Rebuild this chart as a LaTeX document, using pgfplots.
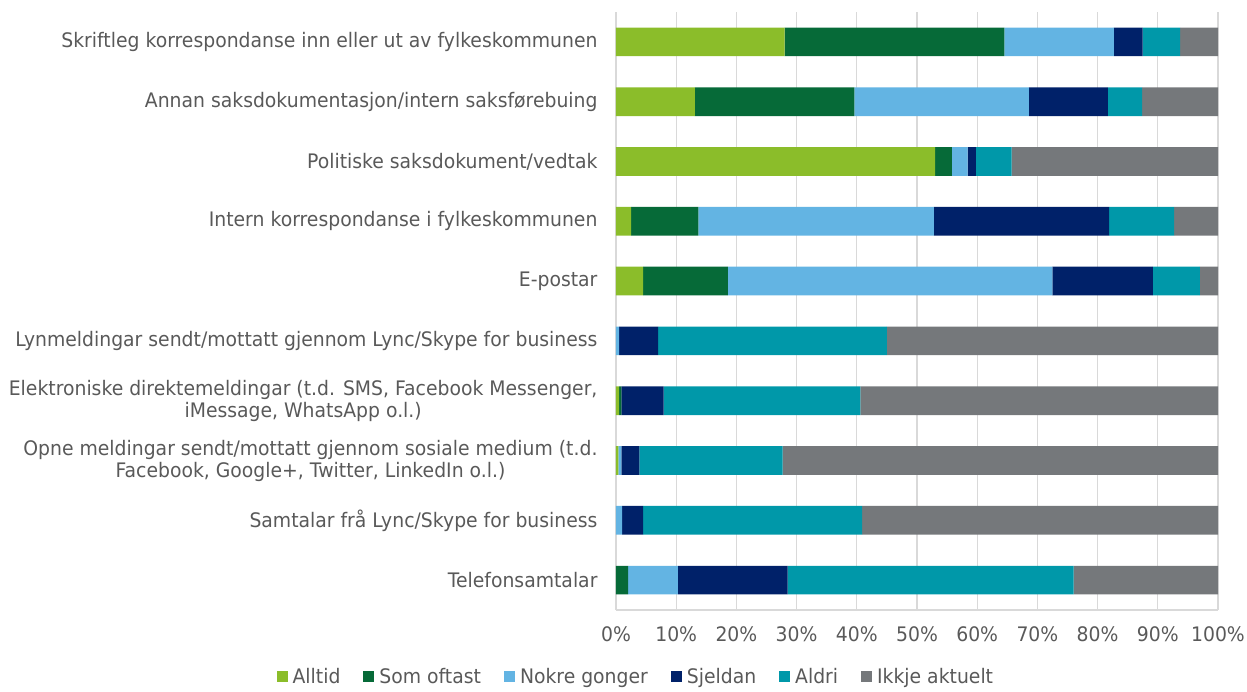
\documentclass[border=0pt]{standalone}
\usepackage{pgfplots}
\pgfplotsset{compat=1.18}
\usepackage{fontspec}
\setmainfont{DejaVu Sans}[FakeStretch=0.94]
\definecolor{c1}{HTML}{8BBD2A}
\definecolor{c2}{HTML}{066A38}
\definecolor{c3}{HTML}{63B4E3}
\definecolor{c4}{HTML}{002169}
\definecolor{c5}{HTML}{0098A9}
\definecolor{c6}{HTML}{75787B}
\definecolor{txt}{HTML}{595959}
\definecolor{gridc}{HTML}{D9D9D9}
\begin{document}
\begin{tikzpicture}[font=\fontsize{20}{22}\selectfont]
\begin{axis}[
  scale only axis, width=602pt, height=598pt,
  xbar stacked, bar width=28.7pt,
  xmin=0, xmax=100, ymin=-0.5, ymax=9.5,
  ytick={0,...,9},
  yticklabels={Telefonsamtalar,
    Samtalar frå Lync/Skype for business,
    {Opne meldingar sendt/mottatt gjennom sosiale medium (t.d.\\Facebook, Google+, Twitter, LinkedIn o.l.)},
    {Elektroniske direktemeldingar (t.d. SMS, Facebook Messenger,\\iMessage, WhatsApp o.l.)},
    Lynmeldingar sendt/mottatt gjennom Lync/Skype for business,
    E-postar,
    Intern korrespondanse i fylkeskommunen,
    Politiske saksdokument/vedtak,
    Annan saksdokumentasjon/intern saksførebuing,
    Skriftleg korrespondanse inn eller ut av fylkeskommunen},
  yticklabel style={align=center, text=txt, font=\fontsize{20}{22}\selectfont, xshift=-15pt},
  xtick={0,10,...,100},
  xticklabels={0\%,10\%,20\%,30\%,40\%,50\%,60\%,70\%,80\%,90\%,100\%},
  xticklabel style={text=txt, font=\fontsize{20}{22}\selectfont, yshift=-13pt},
  major tick length=0pt,
  xmajorgrids, grid style={gridc, line width=1.3pt},
  axis x line*=bottom, axis y line*=left,
  axis line style={draw=gridc, line width=1.3pt, -},
  every axis plot/.append style={draw=none},
  legend style={at={(0.033,-0.094)}, anchor=north, draw=none, fill=none,
    legend columns=6, font=\fontsize{20}{22}\selectfont, text=txt,
    /tikz/every even column/.append style={column sep=21pt},
    /tikz/every odd column/.append style={column sep=3pt},
    inner sep=0pt, outer sep=0pt},
  legend image code/.code={\fill[#1,draw=none] (0pt,-5.5pt) rectangle (11pt,5.5pt);},
  legend cell align=left,
]
\addplot[fill=c1] coordinates {(28.0,9) (13.1,8) (53.0,7) (2.5,6) (4.5,5) (0,4) (0.5,3) (0.4,2) (0,1) (0,0)};
\addplot[fill=c2] coordinates {(36.5,9) (26.5,8) (2.8,7) (11.2,6) (14.1,5) (0,4) (0.4,3) (0,2) (0,1) (2.0,0)};
\addplot[fill=c3] coordinates {(18.2,9) (29.0,8) (2.6,7) (39.1,6) (53.9,5) (0.5,4) (0,3) (0.5,2) (1.0,1) (8.3,0)};
\addplot[fill=c4] coordinates {(4.8,9) (13.1,8) (1.4,7) (29.1,6) (16.7,5) (6.5,4) (7.0,3) (3.0,2) (3.5,1) (18.2,0)};
\addplot[fill=c5] coordinates {(6.2,9) (5.7,8) (5.9,7) (10.8,6) (7.8,5) (38.0,4) (32.7,3) (23.8,2) (36.4,1) (47.5,0)};
\addplot[fill=c6] coordinates {(6.3,9) (12.6,8) (34.3,7) (7.3,6) (3.0,5) (55.0,4) (59.4,3) (72.3,2) (59.1,1) (24.0,0)};
\legend{Alltid, Som oftast, Nokre gonger, Sjeldan, Aldri, Ikkje aktuelt}
\end{axis}
\pgfresetboundingbox
\path (-616pt,-81pt) rectangle (631pt,610pt);
\end{tikzpicture}
\end{document}
